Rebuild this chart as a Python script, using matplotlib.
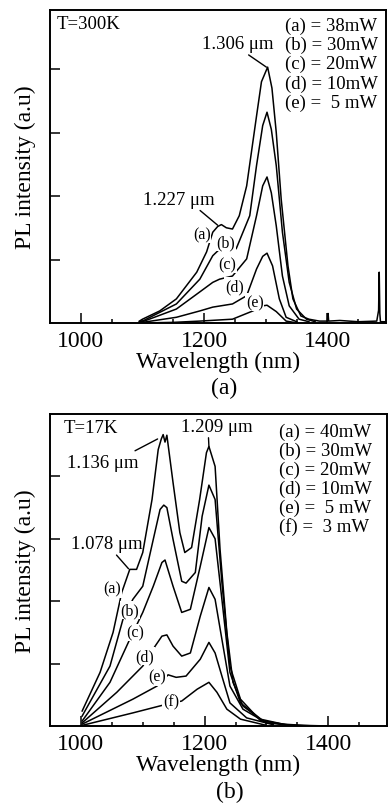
import numpy as np
import matplotlib.pyplot as plt

plt.rcParams['font.family'] = ['Liberation Serif', 'DejaVu Serif']
plt.rcParams['mathtext.fontset'] = 'stix'

# ── Data: T = 300 K panel (wavelength nm, PL intensity a.u.) ──────────
wl_300_a = [1095, 1100, 1128, 1155, 1188, 1204, 1214, 1222, 1228, 1236, 1246, 1257,
            1269, 1285, 1293, 1303, 1310, 1317, 1325, 1336, 1344, 1357, 1370, 1387,
            1400, 1401, 1402, 1420, 1450, 1480, 1483, 1484, 1485, 1486, 1495]
pl_300_a = [0.03, 0.06, 0.19, 0.38, 0.80, 1.12, 1.43, 1.52, 1.55, 1.50, 1.48, 1.69,
            2.16, 3.26, 3.80, 4.03, 3.70, 3.00, 1.95, 0.90, 0.38, 0.11, 0.06, 0.03,
            0.03, 0.15, 0.03, 0.04, 0.02, 0.03, 0.20, 0.80, 0.15, 0.02, 0.02]

wl_300_b = [1095, 1100, 1155, 1193, 1214, 1228, 1240, 1252, 1274, 1285, 1295, 1302,
            1309, 1317, 1327, 1338, 1350, 1366, 1380]
pl_300_b = [0.02, 0.03, 0.30, 0.69, 1.06, 1.19, 1.16, 1.17, 1.69, 2.48, 3.11, 3.32,
            3.05, 2.48, 1.43, 0.64, 0.22, 0.06, 0.02]

wl_300_c = [1095, 1100, 1155, 1193, 1214, 1225, 1246, 1269, 1285, 1295, 1302, 1309,
            1317, 1327, 1338, 1354, 1370]
pl_300_c = [0.01, 0.02, 0.22, 0.49, 0.64, 0.69, 0.74, 1.01, 1.69, 2.16, 2.30, 2.05,
            1.53, 0.74, 0.27, 0.06, 0.02]

wl_300_d = [1095, 1100, 1155, 1193, 1214, 1246, 1269, 1285, 1295, 1302, 1311, 1322,
            1333, 1350]
pl_300_d = [0.01, 0.01, 0.09, 0.19, 0.25, 0.30, 0.43, 0.85, 1.05, 1.10, 0.90, 0.38,
            0.09, 0.02]

wl_300_e = [1095, 1150, 1193, 1246, 1279, 1295, 1302, 1317, 1333, 1345]
pl_300_e = [0.00, 0.01, 0.03, 0.06, 0.19, 0.27, 0.28, 0.18, 0.03, 0.01]

labels_300 = ['(a) = 38mW', '(b) = 30mW', '(c) = 20mW', '(d) = 10mW', '(e) =  5 mW']

# ── Data: T = 17 K panel ───────────────────────────────────────────────
wl_17_a = [1002, 1031, 1052, 1066, 1079, 1090, 1100, 1115, 1125, 1130, 1133, 1136,
           1139, 1149, 1160, 1168, 1179, 1192, 1203, 1207, 1217, 1225, 1236, 1246,
           1262, 1290, 1327, 1360, 1400]
pl_17_a = [0.24, 0.86, 1.50, 2.14, 2.51, 2.51, 2.78, 3.63, 4.43, 4.60, 4.67, 4.55,
           4.66, 3.90, 3.10, 2.78, 2.86, 3.63, 4.38, 4.48, 4.16, 2.83, 1.50, 0.70,
           0.32, 0.11, 0.03, 0.01, 0.00]

wl_17_b = [1002, 1047, 1068, 1084, 1100, 1117, 1128, 1134, 1139, 1149, 1163, 1170,
           1185, 1196, 1207, 1217, 1228, 1241, 1258, 1290, 1330, 1380]
pl_17_b = [0.16, 0.96, 1.71, 2.03, 2.24, 2.99, 3.47, 3.54, 3.50, 2.99, 2.32, 2.29,
           2.46, 3.36, 3.86, 3.63, 2.30, 0.96, 0.43, 0.09, 0.02, 0.00]

wl_17_c = [1002, 1047, 1079, 1100, 1117, 1131, 1136, 1149, 1163, 1177, 1193, 1207,
           1217, 1228, 1241, 1258, 1295, 1340]
pl_17_c = [0.08, 0.70, 1.39, 1.82, 2.24, 2.62, 2.66, 2.24, 1.82, 1.87, 2.56, 3.18,
           3.00, 2.03, 0.86, 0.37, 0.08, 0.01]

wl_17_d = [1002, 1058, 1100, 1120, 1131, 1139, 1149, 1163, 1177, 1193, 1207, 1217,
           1228, 1241, 1262, 1300, 1340]
pl_17_d = [0.05, 0.54, 0.96, 1.28, 1.44, 1.46, 1.28, 1.12, 1.17, 1.76, 2.22, 2.03,
           1.39, 0.64, 0.27, 0.05, 0.01]

wl_17_e = [1002, 1084, 1123, 1141, 1154, 1170, 1193, 1207, 1217, 1228, 1241, 1268,
           1311]
pl_17_e = [0.03, 0.43, 0.64, 0.82, 0.78, 0.80, 1.07, 1.34, 1.17, 0.80, 0.37, 0.13,
           0.02]

wl_17_f = [1002, 1084, 1139, 1163, 1188, 1207, 1220, 1236, 1258, 1300]
pl_17_f = [0.01, 0.21, 0.35, 0.40, 0.59, 0.70, 0.54, 0.27, 0.11, 0.01]

labels_17 = ['(a) = 40mW', '(b) = 30mW', '(c) = 20mW', '(d) = 10mW', '(e) =  5 mW',
             '(f) =  3 mW']

# ── Figure ─────────────────────────────────────────────────────────────
W, H = 388, 804
fig = plt.figure(figsize=(W / 100, H / 100), dpi=100)
ax1 = fig.add_axes([50 / W, (H - 324) / H, 336 / W, 313 / H])
ax2 = fig.add_axes([50 / W, (H - 727) / H, 337 / W, 312 / H])

lw = 1.1
for wl, pl in [(wl_300_a, pl_300_a), (wl_300_b, pl_300_b), (wl_300_c, pl_300_c),
               (wl_300_d, pl_300_d), (wl_300_e, pl_300_e)]:
    ax1.plot(wl, pl, color='black', lw=lw)
for wl, pl in [(wl_17_a, pl_17_a), (wl_17_b, pl_17_b), (wl_17_c, pl_17_c),
               (wl_17_d, pl_17_d), (wl_17_e, pl_17_e), (wl_17_f, pl_17_f)]:
    ax2.plot(wl, pl, color='black', lw=lw)

for ax, top in [(ax1, 4.93), (ax2, 5.0)]:
    ax.set_xlim(950, 1495)
    ax.set_ylim(0, top)
    ax.set_xticks([1000, 1200, 1400])
    ax.set_xticks([1050, 1100, 1150, 1250, 1300, 1350, 1450], minor=True)
    ax.set_yticks([1, 2, 3, 4])
    ax.set_yticklabels([])
    ax.tick_params(direction='in', length=7, width=1.1, labelsize=17, pad=5)
    ax.tick_params(which='minor', direction='in', length=3, width=1.1)
    for s in ax.spines.values():
        s.set_linewidth(1.4)
    ax.set_xlabel('Wavelength (nm)', fontsize=17, labelpad=0)
    ax.set_ylabel('PL intensity (a.u)', fontsize=17, labelpad=5)

txt = dict(fontsize=13.5, color='black')
lab = dict(fontsize=11.5, color='black', ha='center', va='center',
           bbox=dict(boxstyle='square,pad=0.05', fc='white', ec='none'))

# top panel texts
ax1.text(0.02, 0.985, 'T=300K', transform=ax1.transAxes, va='top', **txt)
for i, s in enumerate(labels_300):
    ax1.text(0.70, 0.95 - i * 0.061, s, transform=ax1.transAxes, va='center', **txt)
ax1.annotate('1.306 μm', xy=(1301, 4.03), xytext=(1312, 4.40), ha='right', va='center',
             arrowprops=dict(arrowstyle='-', color='black', lw=1.0,
                             shrinkA=0, shrinkB=0, relpos=(0.6, 0)), **txt)
ax1.annotate('1.227 μm', xy=(1222, 1.54), xytext=(1159, 1.95), ha='center', va='center',
             arrowprops=dict(arrowstyle='-', color='black', lw=1.0,
                             shrinkA=0, shrinkB=0, relpos=(0.75, 0)), **txt)
for s, x, y in [('(a)', 1196, 1.40), ('(b)', 1235, 1.27), ('(c)', 1238, 0.93),
                ('(d)', 1249, 0.58), ('(e)', 1282, 0.33)]:
    ax1.text(x, y, s, **lab)

# bottom panel texts
ax2.text(0.04, 0.985, 'T=17K', transform=ax2.transAxes, va='top', **txt)
for i, s in enumerate(labels_17):
    ax2.text(0.68, 0.945 - i * 0.061, s, transform=ax2.transAxes, va='center', **txt)
ax2.annotate('1.209 μm', xy=(1207, 4.48), xytext=(1220, 4.80), ha='center', va='center',
             arrowprops=dict(arrowstyle='-', color='black', lw=1.0,
                             shrinkA=0, shrinkB=0, relpos=(0.38, 0)), **txt)
ax2.annotate('1.136 μm', xy=(1124, 4.60), xytext=(1035, 4.23), ha='center', va='center',
             arrowprops=dict(arrowstyle='-', color='black', lw=1.0,
                             shrinkA=0, shrinkB=0, relpos=(0.88, 1.0)), **txt)
ax2.annotate('1.078 μm', xy=(1077, 2.52), xytext=(1042, 2.92), ha='center', va='center',
             arrowprops=dict(arrowstyle='-', color='black', lw=1.0,
                             shrinkA=0, shrinkB=0, relpos=(0.6, 0)), **txt)
for s, x, y in [('(a)', 1050, 2.20), ('(b)', 1079, 1.86), ('(c)', 1087, 1.50),
                ('(d)', 1103, 1.12), ('(e)', 1124, 0.79), ('(f)', 1146, 0.40)]:
    ax2.text(x, y, s, **lab)

fig.text(224 / W, 1 - 388 / H, '(a)', ha='center', va='center', fontsize=17)
fig.text(230 / W, 1 - 792 / H, '(b)', ha='center', va='center', fontsize=17)

fig.savefig('out.png', dpi=100)
